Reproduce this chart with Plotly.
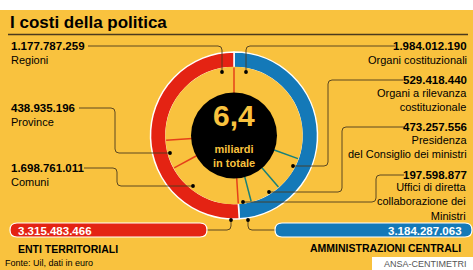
import math
import plotly.graph_objects as go

W, H = 473, 270

# ---------------- data ----------------
title = "I costi della politica"
group_names = ["AMMINISTRAZIONI CENTRALI", "ENTI TERRITORIALI"]
group_totals = [3184287063, 3315483466]
group_total_labels = ["3.184.287.063", "3.315.483.466"]

item_names = [
    "Organi costituzionali",
    "Organi a rilevanza<br>costituzionale",
    "Presidenza<br>del Consiglio dei ministri",
    "Uffici di diretta<br>collaborazione dei<br>Ministri",
    "Regioni",
    "Province",
    "Comuni",
]
item_values = [1984012190, 529418440, 473257556, 197598877,
               1177787259, 438935196, 1698761011]
item_value_labels = ["1.984.012.190", "529.418.440", "473.257.556", "197.598.877",
                     "1.177.787.259", "438.935.196", "1.698.761.011"]
item_group = [0, 0, 0, 0, 1, 1, 1]

center_big = "6,4"
center_small = "miliardi<br>in totale"
source_text = "Fonte: Uil, dati in euro"
credit_text = "ANSA-CENTIMETRI"

# ---------------- style ----------------
YELLOW = "#F9C23E"
RED = "#E42313"
BLUE = "#1479B8"
RED_LINE = "#E5401A"
TEAL_LINE = "#17807A"
DARK = "#4A3A1E"
FONT = "Liberation Sans, Arial, sans-serif"

CX, CY = 234.0, 135.5
R_OUT, R_IN, R_CORE = 83.5, 68.0, 43.0


def X(px):
    return px / W


def Y(py):
    return 1 - py / H


def polar(r, deg):
    a = math.radians(deg)
    return CX + r * math.sin(a), CY - r * math.cos(a)


fig = go.Figure()

# outer ring (group totals)
fig.add_trace(go.Pie(
    values=group_totals, labels=group_names,
    marker=dict(colors=[BLUE, RED], line=dict(color="white", width=1.5)),
    hole=R_IN / R_OUT, sort=False, direction="clockwise", rotation=0,
    textinfo="none", hoverinfo="skip", showlegend=False,
    domain=dict(x=[X(CX - R_OUT), X(CX + R_OUT)], y=[Y(CY + R_OUT), Y(CY - R_OUT)]),
))

shapes = []
# white strips of the page
shapes.append(dict(type="rect", xref="paper", yref="paper", x0=0, x1=1, y0=Y(10), y1=1,
                   fillcolor="white", line=dict(width=0)))
shapes.append(dict(type="rect", xref="paper", yref="paper", x0=X(372), x1=1, y0=0, y1=Y(257),
                   fillcolor="white", line=dict(width=0)))
# title rule
shapes.append(dict(type="line", xref="paper", yref="paper", x0=X(8), x1=X(468), y0=Y(34.5), y1=Y(34.5),
                   line=dict(color=DARK, width=1.5)))

# cover inner edge of ring
rr = R_IN + 0.7
shapes.append(dict(type="circle", xref="paper", yref="paper",
                   x0=X(CX - rr), x1=X(CX + rr), y0=Y(CY + rr), y1=Y(CY - rr),
                   fillcolor=YELLOW, line=dict(width=0)))

# radial separators between sub items
total = sum(item_values)
cum = [0]
for v in item_values:
    cum.append(cum[-1] + v)
n = len(item_values)
for k in range(n):
    prev_g = item_group[(k - 1) % n]
    next_g = item_group[k]
    col = RED_LINE if (prev_g == 1 or next_g == 1) else TEAL_LINE
    ang = 360.0 * cum[k] / total
    x0, y0 = polar(R_CORE - 1, ang)
    x1, y1 = polar(R_IN, ang)
    shapes.append(dict(type="line", xref="paper", yref="paper",
                       x0=X(x0), y0=Y(y0), x1=X(x1), y1=Y(y1),
                       line=dict(color=col, width=1.5)))

# black core
shapes.append(dict(type="circle", xref="paper", yref="paper",
                   x0=X(CX - R_CORE), x1=X(CX + R_CORE), y0=Y(CY + R_CORE), y1=Y(CY - R_CORE),
                   fillcolor="black", line=dict(width=0)))

# leader lines (pixel polylines) for each item, then totals
leaders = [
    [(395, 46), (246, 46), (246, 72)],
    [(403, 80), (328, 80), (328, 166), (293, 166)],
    [(405, 127), (342, 127), (342, 192), (269, 192)],
    [(404, 175), (376, 175), (376, 202), (243, 202)],
    [(88, 46), (222, 46), (222, 72)],
    [(79, 108), (115, 108), (115, 153), (170, 153)],
    [(84, 168), (117, 168), (117, 186), (193, 186)],
    [(206, 230), (231, 230), (231, 220)],
    [(248, 220), (248, 230), (276, 230)],
]
dot_index = [-1, -1, -1, -1, -1, -1, -1, -1, 0]


def rounded(pts, rad=4):
    d = "M{},{}".format(X(pts[0][0]), Y(pts[0][1]))
    for i in range(1, len(pts) - 1):
        px, py = pts[i]
        ax, ay = pts[i - 1]
        bx, by = pts[i + 1]
        la = math.hypot(px - ax, py - ay)
        lb = math.hypot(bx - px, by - py)
        ra = min(rad, la / 2)
        rb = min(rad, lb / 2)
        s = (px - (px - ax) / la * ra, py - (py - ay) / la * ra)
        e = (px + (bx - px) / lb * rb, py + (by - py) / lb * rb)
        d += " L{},{} Q{},{} {},{}".format(X(s[0]), Y(s[1]), X(px), Y(py), X(e[0]), Y(e[1]))
    d += " L{},{}".format(X(pts[-1][0]), Y(pts[-1][1]))
    return d


for i, pts in enumerate(leaders):
    shapes.append(dict(type="path", xref="paper", yref="paper", path=rounded(pts),
                       line=dict(color=DARK, width=0.9)))
    dx, dy = pts[dot_index[i]]
    r = 1.9
    shapes.append(dict(type="circle", xref="paper", yref="paper",
                       x0=X(dx - r), x1=X(dx + r), y0=Y(dy + r), y1=Y(dy - r),
                       fillcolor="black", line=dict(width=0)))

# bottom bars


def pill(x0, x1, y0, y1):
    r = (y1 - y0) / 2
    return ("M{},{} L{},{} Q{},{} {},{} Q{},{} {},{} L{},{} Q{},{} {},{} Q{},{} {},{} Z".format(
        X(x0 + r), Y(y0), X(x1 - r), Y(y0),
        X(x1), Y(y0), X(x1), Y(y0 + r),
        X(x1), Y(y1), X(x1 - r), Y(y1),
        X(x0 + r), Y(y1),
        X(x0), Y(y1), X(x0), Y(y0 + r),
        X(x0), Y(y0), X(x0 + r), Y(y0)))


shapes.append(dict(type="path", xref="paper", yref="paper", path=pill(10, 207, 223, 237),
                   fillcolor=RED, line=dict(color="white", width=1.2)))
shapes.append(dict(type="path", xref="paper", yref="paper", path=pill(275, 472, 223, 237),
                   fillcolor=BLUE, line=dict(color="white", width=1.2)))

annotations = []


def txt(text, x, y, size, color="black", bold=False, xanchor="left", yanchor="middle", align="left"):
    if bold:
        text = "<b>" + text.replace("<br>", "</b><br><b>") + "</b>"
    annotations.append(dict(text=text, x=X(x), y=Y(y), xref="paper", yref="paper",
                            xanchor=xanchor, yanchor=yanchor, align=align, showarrow=False,
                            font=dict(family=FONT, size=size, color=color), borderpad=0))


txt(title, 9, 22, 17, bold=True)

# item labels
num_y = [46, 80, 127, 175, 46, 108, 168]
name_y = [53, 86, 133, 179.5, 53, 114.5, 174.5]
for i in range(n):
    if item_group[i] == 0:
        txt(item_value_labels[i], 468, num_y[i], 11.5, bold=True, xanchor="right", align="right")
        txt(item_names[i], 468, name_y[i], 11, xanchor="right", yanchor="top", align="right")
    else:
        txt(item_value_labels[i], 10, num_y[i], 11.5, bold=True)
        txt(item_names[i], 10, name_y[i], 11, yanchor="top")

# center
txt(center_big, CX, 116, 30, color=YELLOW, bold=True, xanchor="center", align="center")
txt(center_small, CX, 156, 11, color=YELLOW, bold=True, xanchor="center", align="center")

# totals
txt(group_total_labels[1], 17, 230.5, 11.5, color="white", bold=True)
txt(group_total_labels[0], 463, 230.5, 11.5, color="white", bold=True, xanchor="right")
txt(group_names[1], 17, 249, 10.5, bold=True)
txt(group_names[0], 462, 248, 10.5, bold=True, xanchor="right")

txt(source_text, 4, 263, 9)
txt(credit_text, 383, 264, 9, color="#555555")

fig.update_layout(
    width=W, height=H, margin=dict(l=0, r=0, t=0, b=0),
    paper_bgcolor=YELLOW, plot_bgcolor=YELLOW,
    shapes=shapes, annotations=annotations, showlegend=False,
)

fig.write_html("out.html", config={"displayModeBar": False, "staticPlot": True},
               post_script="document.body.style.margin='0';document.body.style.overflow='hidden';")
